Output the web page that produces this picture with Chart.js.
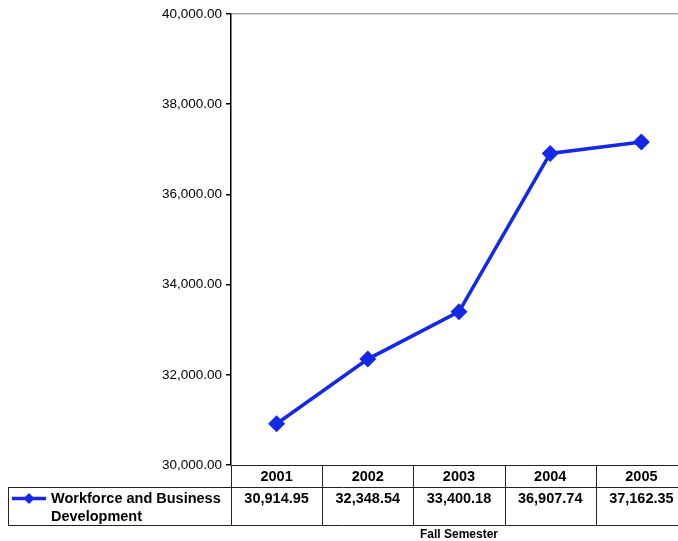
<!DOCTYPE html>
<html><head><meta charset="utf-8">
<script src="https://cdn.jsdelivr.net/npm/chart.js@4/dist/chart.umd.min.js"></script>
<style>html,body{margin:0;padding:0;overflow:hidden;background:#fff}#wrap{position:relative;width:678px;height:541px}canvas{display:block}</style>
</head><body>
<div id="wrap"><canvas id="c" width="678" height="541"></canvas></div>
<script>
const categories = ['2001','2002','2003','2004','2005'];
const seriesName = ['Workforce and Business','Development'];
const values = [30914.95, 32348.54, 33400.18, 36907.74, 37162.35];
const yTicks = [30000, 32000, 34000, 36000, 38000, 40000];
const xTitle = 'Fall Semester';

const LINE = '#1428e6';
const PLOT_RIGHT = 687; // plot extends slightly past the visible edge
const fmt = v => v.toLocaleString('en-US',{minimumFractionDigits:2,maximumFractionDigits:2});

const extendPlugin = {
  id:'extendRight',
  afterLayout(chart){
    const a = chart.chartArea;
    a.right = PLOT_RIGHT; a.width = a.right - a.left;
    const x = chart.scales.x;
    x.right = PLOT_RIGHT; x.width = x.right - x.left;
    x.configure();
  }
};

const tablePlugin = {
  id:'dataTable',
  afterDraw(chart){
    const ctx = chart.ctx, x = chart.scales.x, a = chart.chartArea;
    const top = a.bottom, r1 = top + 22, r2 = top + 60, legL = 8;
    const n = categories.length;
    const w = (a.right - a.left)/n;
    ctx.save();
    ctx.strokeStyle = '#222'; ctx.lineWidth = 1;
    ctx.beginPath();
    ctx.moveTo(a.left, top+0.5); ctx.lineTo(a.right, top+0.5);
    ctx.moveTo(legL, r1+0.5); ctx.lineTo(a.right, r1+0.5);
    ctx.moveTo(legL, r2+0.5); ctx.lineTo(a.right, r2+0.5);
    ctx.moveTo(legL+0.5, r1); ctx.lineTo(legL+0.5, r2);
    for(let i=0;i<=n;i++){ const bx=Math.round(a.left+i*w)+0.5; ctx.moveTo(bx, top); ctx.lineTo(bx, r2); }
    ctx.stroke();
    ctx.fillStyle='#000'; ctx.textAlign='center'; ctx.textBaseline='middle';
    ctx.font='bold 14.5px "Liberation Sans", Arial, sans-serif';
    categories.forEach((c,i)=>{
      const cx = x.getPixelForValue(i);
      ctx.fillText(c, cx, top+12);
      ctx.fillText(fmt(values[i]), cx, r1+12);
    });
    ctx.strokeStyle=LINE; ctx.lineWidth=3.5;
    ctx.beginPath(); ctx.moveTo(12, r1+11.5); ctx.lineTo(46, r1+11.5); ctx.stroke();
    ctx.fillStyle=LINE; ctx.beginPath();
    const dx=29, dy=r1+11.5, s=5.5;
    ctx.moveTo(dx,dy-s); ctx.lineTo(dx+s,dy); ctx.lineTo(dx,dy+s); ctx.lineTo(dx-s,dy); ctx.closePath(); ctx.fill();
    ctx.fillStyle='#000'; ctx.textAlign='left';
    ctx.fillText(seriesName[0], 51, r1+12);
    ctx.fillText(seriesName[1], 51, r1+30);
    ctx.textAlign='center'; ctx.font='bold 12px "Liberation Sans", Arial, sans-serif';
    ctx.fillText(xTitle, (a.left+a.right)/2, r2+10);
    ctx.restore();
  }
};

new Chart(document.getElementById('c'), {
  type:'line',
  data:{ labels: categories, datasets:[{
    label: seriesName.join(' '), data: values,
    borderColor: LINE, backgroundColor: LINE, borderWidth: 3.5,
    pointStyle:'rectRot', pointRadius:6, pointHoverRadius:6,
    tension:0, clip:false
  }]},
  options:{
    responsive:false, animation:false,
    layout:{ padding:{ left:0, top:14, right:0, bottom:76 } },
    plugins:{ legend:{display:false}, tooltip:{enabled:false}, title:{display:false} },
    scales:{
      x:{ type:'category', offset:true, display:false },
      y:{
        min:30000, max:40000,
        afterFit(s){ s.width = 231; },
        afterBuildTicks(s){ s.ticks = yTicks.map(v=>({value:v})); },
        border:{ display:true, color:'#000', width:1.5 },
        grid:{ drawOnChartArea:true, drawTicks:true, tickLength:5, tickColor:'#000', lineWidth:1.5,
               color: c => (c.tick && c.tick.value===40000) ? '#aaaaaa' : 'rgba(0,0,0,0)' },
        ticks:{ padding:4, color:'#000', font:{ family:'"Liberation Sans", Arial, sans-serif', size:13.5 },
                callback: v => fmt(v) }
      }
    }
  },
  plugins:[extendPlugin, tablePlugin]
});
</script>
</body></html>
